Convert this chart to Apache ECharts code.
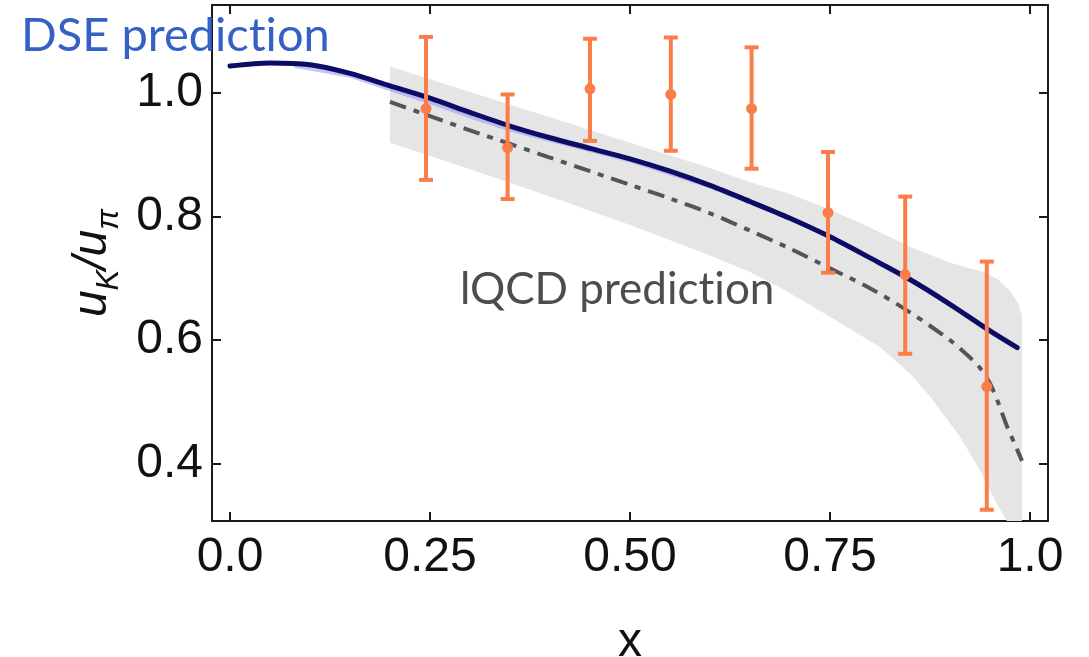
<!DOCTYPE html>
<html>
<head>
<meta charset="utf-8">
<script src="https://cdn.jsdelivr.net/npm/echarts@6/dist/echarts.min.js"></script>
<style>html,body{margin:0;padding:0;background:#fff;}#c{width:1089px;height:657px;}</style>
</head>
<body>
<div id="c"></div>
<script>
// ---- data ----
var xTicks = [0, 0.25, 0.5, 0.75, 1.0];
var xTickLabels = ['0.0', '0.25', '0.50', '0.75', '1.0'];
var yTicks = [0.4, 0.6, 0.8, 1.0];
var yTickLabels = ['0.4', '0.6', '0.8', '1.0'];

// DSE prediction (solid navy)
var dseX = [0, 0.05, 0.1, 0.15, 0.2, 0.25, 0.3, 0.35, 0.4, 0.45, 0.5, 0.55, 0.6, 0.65, 0.7, 0.75, 0.8, 0.85, 0.9, 0.95, 0.984];
var dseY = [1.043, 1.048, 1.045, 1.031, 1.011, 0.991, 0.968, 0.946, 0.927, 0.910, 0.893, 0.873, 0.850, 0.824, 0.797, 0.767, 0.733, 0.698, 0.658, 0.615, 0.588];
// thin DSE uncertainty band (light blue)
var dseBandX = [0.08, 0.15, 0.2, 0.25, 0.3, 0.35, 0.4, 0.5, 0.6, 0.7, 0.75];
var dseBandHi = [1.047, 1.033, 1.014, 0.994, 0.971, 0.949, 0.929, 0.895, 0.852, 0.799, 0.768];
var dseBandLo = [1.040, 1.024, 1.002, 0.981, 0.958, 0.937, 0.920, 0.887, 0.845, 0.793, 0.764];

// lQCD central curve (dash-dot)
var lqcdX = [0.2, 0.25, 0.3, 0.35, 0.4, 0.45, 0.5, 0.55, 0.6, 0.65, 0.7, 0.75, 0.8, 0.85, 0.9, 0.925, 0.9375, 0.95, 0.96, 0.97, 0.98, 0.99];
var lqcdY = [0.985, 0.962, 0.939, 0.917, 0.895, 0.873, 0.851, 0.829, 0.805, 0.777, 0.748, 0.716, 0.684, 0.645, 0.600, 0.572, 0.555, 0.530, 0.500, 0.465, 0.435, 0.405];
// lQCD band (grey)
var bandUpX = [0.2, 0.3, 0.4, 0.5, 0.6, 0.65, 0.7, 0.75, 0.8, 0.85, 0.9, 0.945, 0.96, 0.975, 0.985, 0.99, 0.99];
var bandUpY = [1.042, 1.001, 0.960, 0.919, 0.878, 0.855, 0.836, 0.811, 0.782, 0.751, 0.725, 0.709, 0.698, 0.680, 0.660, 0.640, 0.3079];
var bandLoX = [0.2, 0.3, 0.4, 0.5, 0.6, 0.65, 0.6875, 0.75, 0.8125, 0.85, 0.875, 0.9125, 0.9375, 0.958, 0.971];
var bandLoY = [0.919, 0.876, 0.832, 0.786, 0.737, 0.710, 0.685, 0.638, 0.589, 0.546, 0.509, 0.444, 0.390, 0.337, 0.3079];

// data points with error bars (orange)
var ptX = [0.245, 0.347, 0.45, 0.551, 0.652, 0.7475, 0.844, 0.946];
var ptY = [0.974, 0.911, 1.006, 0.997, 0.974, 0.806, 0.706, 0.525];
var ptLo = [0.859, 0.828, 0.922, 0.906, 0.877, 0.709, 0.578, 0.326];
var ptHi = [1.090, 0.997, 1.087, 1.089, 1.073, 0.904, 0.832, 0.727];

var X_MIN = -0.0225, X_MAX = 1.0225, Y_MIN = 0.3079, Y_MAX = 1.1415;

function zip(a, b) { return a.map(function (v, i) { return [v, b[i]]; }); }

var chart = echarts.init(document.getElementById('c'), null, { renderer: 'canvas' });

var axisLineStyle = { show: true, onZero: false, lineStyle: { color: '#1a1a1a', width: 2 } };
var tickStyle = { show: true, inside: true, length: 9, lineStyle: { color: '#1a1a1a', width: 2 } };

function polyBand(upX, upY, loX, loY, color) {
  return function (params, api) {
    if (params.dataIndex !== 0) return;
    var pts = [];
    for (var i = 0; i < upX.length; i++) pts.push(api.coord([upX[i], upY[i]]));
    for (var j = loX.length - 1; j >= 0; j--) pts.push(api.coord([loX[j], loY[j]]));
    return { type: 'polygon', shape: { points: pts, smooth: 0 }, style: { fill: color, stroke: null } };
  };
}

var labelFont = 'Liberation Sans, Arial, sans-serif';
var annFont = 'Lato, "Open Sans", sans-serif';

var option = {
  backgroundColor: '#ffffff',
  animation: false,
  grid: { left: 212, top: 5, right: 41, bottom: 136, containLabel: false, outerBoundsMode: 'none' },
  xAxis: [{
    type: 'value', min: X_MIN, max: X_MAX, position: 'bottom',
    axisLine: axisLineStyle,
    axisTick: Object.assign({}, tickStyle, { customValues: xTicks }),
    axisLabel: {
      customValues: xTicks, margin: 13,
      fontFamily: labelFont, fontSize: 48, color: '#111',
      formatter: function (v) { var k = xTicks.indexOf(v); return k >= 0 ? xTickLabels[k] : ''; }
    },
    splitLine: { show: false },
    name: 'x', nameLocation: 'middle', nameGap: 98,
    nameTextStyle: { fontFamily: labelFont, fontSize: 48, color: '#111' }
  }, {
    type: 'value', min: X_MIN, max: X_MAX, position: 'top',
    axisLine: axisLineStyle,
    axisTick: Object.assign({}, tickStyle, { customValues: xTicks }),
    axisLabel: { show: false }, splitLine: { show: false }
  }],
  yAxis: [{
    type: 'value', min: Y_MIN, max: Y_MAX, position: 'left',
    axisLine: axisLineStyle,
    axisTick: Object.assign({}, tickStyle, { customValues: yTicks }),
    axisLabel: {
      customValues: yTicks, margin: 9,
      fontFamily: labelFont, fontSize: 48, color: '#111',
      formatter: function (v) { var k = yTicks.indexOf(v); return k >= 0 ? yTickLabels[k] : ''; }
    },
    splitLine: { show: false },
    name: '{i|u}{s|K}{i|/u}{s|\u03c0}', nameLocation: 'middle', nameGap: 84,
    nameTextStyle: {
      color: '#111',
      rich: {
        i: { fontFamily: labelFont, fontStyle: 'italic', fontSize: 48, lineHeight: 50, verticalAlign: 'top', color: '#111' },
        s: { fontFamily: labelFont, fontStyle: 'italic', fontSize: 31, lineHeight: 57, verticalAlign: 'bottom', color: '#111' }
      }
    }
  }, {
    type: 'value', min: Y_MIN, max: Y_MAX, position: 'right',
    axisLine: axisLineStyle,
    axisTick: Object.assign({}, tickStyle, { customValues: yTicks }),
    axisLabel: { show: false }, splitLine: { show: false }
  }],
  series: [
    {
      name: 'lQCD band', type: 'custom', data: [[0]], z: 1, silent: true,
      renderItem: polyBand(bandUpX, bandUpY, bandLoX, bandLoY, '#e5e5e5')
    },
    {
      name: 'DSE band', type: 'custom', data: [[0]], z: 2, silent: true,
      renderItem: polyBand(dseBandX, dseBandHi, dseBandX, dseBandLo, 'rgba(150,150,240,0.55)')
    },
    {
      name: 'lQCD', type: 'line', data: zip(lqcdX, lqcdY), smooth: 0.3, symbol: 'none', z: 3,
      lineStyle: { color: '#555555', width: 4, type: [17, 8, 6, 8] }
    },
    {
      name: 'DSE', type: 'line', data: zip(dseX, dseY), smooth: 0.3, symbol: 'none', z: 4,
      lineStyle: { color: '#0c0c66', width: 5, cap: 'round' }
    },
    {
      name: 'data', type: 'custom', z: 5,
      data: ptX.map(function (x, i) { return [x, ptY[i], ptLo[i], ptHi[i]]; }),
      renderItem: function (params, api) {
        var x = api.value(0);
        var c = api.coord([x, api.value(1)]);
        var lo = api.coord([x, api.value(2)]);
        var hi = api.coord([x, api.value(3)]);
        var hw = 7, col = '#fb7d4a';
        var ls = { stroke: col, lineWidth: 4 };
        return {
          type: 'group', children: [
            { type: 'line', shape: { x1: c[0], y1: lo[1], x2: c[0], y2: hi[1] }, style: ls },
            { type: 'line', shape: { x1: c[0] - hw, y1: lo[1], x2: c[0] + hw, y2: lo[1] }, style: ls },
            { type: 'line', shape: { x1: c[0] - hw, y1: hi[1], x2: c[0] + hw, y2: hi[1] }, style: ls },
            { type: 'circle', shape: { cx: c[0], cy: c[1], r: 5.5 }, style: { fill: col } }
          ]
        };
      }
    }
  ],
  graphic: [
    { type: 'text', left: 21, top: 12, z: 100,
      style: { text: 'DSE predict{a|ion}', fontFamily: annFont, fontSize: 47, fill: '#3561c6',
        rich: { a: { fontFamily: annFont, fontSize: 47, fill: '#3561c6' } } } },
    { type: 'text', left: 460, top: 268, z: 100,
      style: { text: 'lQCD predict{a|ion}', fontFamily: annFont, fontSize: 44, fill: '#4d4d4d',
        rich: { a: { fontFamily: annFont, fontSize: 44, fill: '#4d4d4d' } } } }
  ]
};
chart.setOption(option);
</script>
</body>
</html>
